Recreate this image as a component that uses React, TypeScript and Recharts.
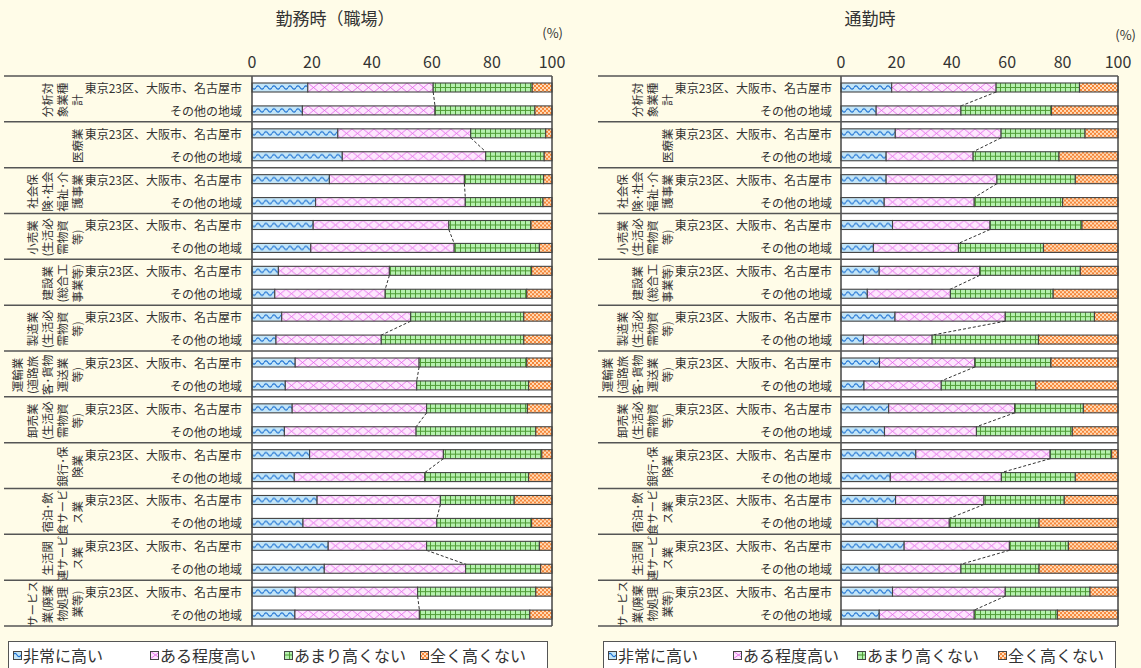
import React from 'react';
import { BarChart, Bar, XAxis, YAxis, CartesianGrid, ReferenceLine } from 'recharts';

// ---------------- data ----------------
const groupLabels: string[][] = [
  ['分析対', '象業種', '計'],
  ['医療業'],
  ['社会保', '険・社会', '福祉・介', '護事業'],
  ['小売業', '(生活必', '需物資', '等)'],
  ['建設業', '(総合工', '事業等)'],
  ['製造業', '(生活必', '需物資', '等)'],
  ['運輸業', '(道路旅', '客・貨物', '運送業', '等)'],
  ['卸売業', '(生活必', '需物資', '等)'],
  ['銀行・保', '険業'],
  ['宿泊・飲', '食サービ', 'ス業'],
  ['生活関', '連サービ', 'ス業'],
  ['サービス', '業(廃棄', '物処理', '業等)'],
];
const rowLabels = ['東京23区、大阪市、名古屋市', 'その他の地域'];
const seriesNames = ['非常に高い', 'ある程度高い', 'あまり高くない', '全く高くない'];
const xTicks = [0, 20, 40, 60, 80, 100];
const titles = ['勤務時（職場）', '通勤時'];

// 勤務時（職場）
const workVery = [18.6, 16.8, 28.6, 30.1, 25.8, 21.2, 20.4, 19.6, 8.8, 7.6, 9.9, 8.0, 14.4, 11.1, 13.4, 10.8, 19.2, 14.1, 21.7, 17.0, 25.4, 24.1, 14.4, 14.3];
const workSome = [41.8, 44.2, 44.3, 47.8, 45.0, 49.9, 45.2, 47.8, 37.0, 36.8, 43.0, 35.1, 41.3, 43.8, 44.8, 43.9, 44.6, 43.5, 41.1, 44.6, 32.8, 47.1, 40.8, 41.5];
const workNotVery = [33.0, 33.3, 25.0, 19.5, 26.4, 25.9, 27.4, 28.4, 47.4, 47.2, 37.7, 47.5, 35.9, 37.3, 33.6, 39.9, 32.8, 34.6, 24.6, 31.6, 37.6, 25.0, 39.4, 36.8];
const workNone = [6.6, 5.7, 2.1, 2.6, 2.8, 3.0, 7.0, 4.2, 6.8, 8.4, 9.4, 9.4, 8.4, 7.8, 8.2, 5.4, 3.4, 7.8, 12.6, 6.8, 4.2, 3.8, 5.4, 7.4];

// 通勤時
const commVery = [18.3, 12.7, 19.6, 16.3, 16.3, 15.6, 18.6, 11.7, 13.8, 9.5, 19.5, 8.1, 13.9, 8.3, 17.2, 15.7, 27.0, 17.8, 19.7, 13.1, 22.8, 13.8, 18.6, 13.8];
const commSome = [37.7, 30.6, 38.2, 31.4, 40.0, 32.5, 35.2, 30.7, 36.3, 30.0, 39.8, 24.8, 34.4, 27.9, 45.5, 33.2, 48.5, 40.1, 31.9, 26.0, 38.0, 29.5, 40.7, 34.3];
const commNotVery = [30.1, 32.7, 30.3, 31.0, 28.3, 31.9, 33.2, 30.7, 36.3, 37.1, 32.2, 38.4, 27.5, 34.1, 24.8, 34.6, 22.2, 26.7, 29.0, 32.4, 21.3, 28.2, 30.6, 30.0];
const commNone = [13.9, 24.0, 11.9, 21.3, 15.4, 20.0, 13.0, 26.9, 13.6, 23.4, 8.5, 28.7, 24.2, 29.7, 12.5, 16.5, 2.3, 15.4, 19.4, 28.5, 17.9, 28.5, 10.1, 21.9];

type Row = { id: number; group: number; label: string; very: number; some: number; notVery: number; none: number };

function buildRows(very: number[], some: number[], notVery: number[], none: number[]): Row[] {
  return very.map((v, i) => ({
    id: i,
    group: Math.floor(i / 2),
    label: rowLabels[i % 2],
    very: v,
    some: some[i],
    notVery: notVery[i],
    none: none[i],
  }));
}

const workRows = buildRows(workVery, workSome, workNotVery, workNone);
const commRows = buildRows(commVery, commSome, commNotVery, commNone);

// ---------------- styles ----------------
const BG = '#FFFCE8';
const TEXT = '#333333';
const FONT = '"Noto Sans CJK JP", "Noto Sans", sans-serif';
const KEYS = ['very', 'some', 'notVery', 'none'] as const;
type Kind = typeof KEYS[number];

function patternDef(kind: Kind, id: string, y: number, h: number) {
  switch (kind) {
    case 'very':
      return (
        <pattern id={id} patternUnits="userSpaceOnUse" x={0} y={y} width={8} height={h}>
          <rect width={8} height={h} fill="#C3E5F8" />
          <path d={`M0 ${h / 2} Q2 ${h / 2 - 3.2} 4 ${h / 2} T8 ${h / 2}`} fill="none" stroke="#1A6FD2" strokeWidth={1.1} />
        </pattern>
      );
    case 'some':
      return (
        <pattern id={id} patternUnits="userSpaceOnUse" x={0} y={y} width={11} height={h}>
          <rect width={11} height={h} fill="#FDE6FD" />
          <path d={`M0 0 L11 ${h} M11 0 L0 ${h}`} fill="none" stroke="#E25CE8" strokeWidth={0.8} />
        </pattern>
      );
    case 'notVery':
      return (
        <pattern id={id} patternUnits="userSpaceOnUse" x={0} y={y} width={5} height={h}>
          <rect width={5} height={h} fill="#B5F1AE" />
          <line x1={0.5} x2={0.5} y1={0} y2={h} stroke="#4F9B35" strokeWidth={1} />
          <line x1={0} x2={5} y1={h / 2} y2={h / 2} stroke="#4F9B35" strokeWidth={1} />
        </pattern>
      );
    default:
      return (
        <pattern id={id} patternUnits="userSpaceOnUse" x={0} y={y} width={4} height={4}>
          <rect width={4} height={4} fill="#FFDDBA" />
          <rect x={0} y={0} width={2} height={2} fill="#F5863A" />
          <rect x={2} y={2} width={2} height={2} fill="#F5863A" />
        </pattern>
      );
  }
}

type PanelCfg = {
  pid: string;
  title: string;
  rows: Row[];
  left: number;
  width: number;
  plotLeft: number;
  plotRight: number;
  tableLeft: number;
  rowLabelRight: number;
  groupColRight: number;
  titleX: number;
  pctRight: number;
  pctY: number;
  legendLeft: number;
  legendWidth: number;
  legendItemX: number[];
};

const PLOT_TOP = 76;
const PLOT_BOTTOM = 626;
const CHART_H = 668;

function makeShape(kind: Kind, cfg: PanelCfg, band: number) {
  return (props: any) => {
    const { x, y, width, height, index, payload } = props;
    if (!(width > 0)) return <g />;
    const id = `${cfg.pid}-${kind}-${index}`;
    let connector: React.ReactNode = null;
    if (kind === 'some' && index % 2 === 0) {
      const next = cfg.rows[index + 1];
      const k = width / payload.some;
      const x0 = x - payload.very * k;
      const xa = x + width;
      const xb = x0 + (next.very + next.some) * k;
      connector = (
        <line x1={xa} y1={y + height} x2={xb} y2={y + band} stroke="#333" strokeWidth={1} strokeDasharray="3 2" />
      );
    }
    return (
      <g>
        <defs>{patternDef(kind, id, y, height)}</defs>
        <rect x={x} y={y} width={width} height={height} fill={`url(#${id})`} stroke="#444" strokeWidth={1.1} />
        {connector}
      </g>
    );
  };
}

function makeTick(cfg: PanelCfg, band: number) {
  return (props: any) => {
    const { y, payload } = props;
    const i = Number(payload.value);
    const row = cfg.rows[i];
    const els: React.ReactNode[] = [];
    els.push(
      <text key="l" x={cfg.rowLabelRight} y={y} textAnchor="end" dominantBaseline="central" fontSize={12} fill={TEXT} fontFamily={FONT}>
        {row.label}
      </text>
    );
    if (i % 2 === 0) {
      const top = y - band / 2;
      const gc = y + band / 2 + 1;
      els.push(<line key="s" x1={cfg.tableLeft} x2={cfg.plotRight} y1={top} y2={top} stroke="#555" strokeWidth={1.5} />);
      const lines = groupLabels[row.group];
      lines.forEach((t, j) => {
        const cx = cfg.groupColRight - (lines.length - 1 - j) * 15;
        els.push(
          <text key={'g' + j} x={cx} y={gc} transform={`rotate(-90 ${cx} ${gc})`} textAnchor="middle" dominantBaseline="central" fontSize={11.5} fill={TEXT} fontFamily={FONT}>
            {t.replace(/・/g, '･')}
          </text>
        );
      });
    }
    if (i === cfg.rows.length - 1) {
      const bot = y + band / 2;
      els.push(<line key="b" x1={cfg.tableLeft} x2={cfg.plotRight} y1={bot} y2={bot} stroke="#555" strokeWidth={1.5} />);
    }
    return <g>{els}</g>;
  };
}

function LegendBox({ cfg }: { cfg: PanelCfg }) {
  return (
    <div
      style={{
        position: 'absolute',
        left: cfg.legendLeft,
        top: 641,
        width: cfg.legendWidth,
        height: 32,
        boxSizing: 'border-box',
        border: '1px solid #555',
        background: '#fff',
        fontSize: 16,
        color: TEXT,
        whiteSpace: 'nowrap',
      }}
    >
      {seriesNames.map((n, i) => (
        <span key={n} style={{ position: 'absolute', left: cfg.legendItemX[i], top: 2, display: 'flex', alignItems: 'center', lineHeight: '22px' }}>
          <svg width={9} height={9} style={{ marginRight: 1 }}>
            <defs>{patternDef(KEYS[i], `${cfg.pid}-lg-${i}`, 0, 8)}</defs>
            <rect x={0.5} y={0.5} width={8} height={8} fill={`url(#${cfg.pid}-lg-${i})`} stroke="#444" strokeWidth={1} />
          </svg>
          {n}
        </span>
      ))}
    </div>
  );
}

function Panel({ cfg }: { cfg: PanelCfg }) {
  const band = (PLOT_BOTTOM - PLOT_TOP) / cfg.rows.length;
  return (
    <div style={{ position: 'absolute', left: cfg.left, top: 0, width: cfg.width, height: CHART_H }}>
      <div style={{ position: 'absolute', left: cfg.titleX - 100, width: 200, top: 6, textAlign: 'center', fontSize: 17, lineHeight: '24px', color: TEXT }}>
        {cfg.title}
      </div>
      <div style={{ position: 'absolute', left: cfg.pctRight - 40, width: 40, top: cfg.pctY - 9, textAlign: 'right', fontSize: 13, lineHeight: '18px', color: TEXT }}>
        (%)
      </div>
      <div style={{ position: 'absolute', left: 0, top: 0 }}>
        <BarChart
          width={cfg.width}
          height={CHART_H}
          data={cfg.rows}
          layout="vertical"
          margin={{ top: PLOT_TOP - 30, right: cfg.width - cfg.plotRight, bottom: CHART_H - PLOT_BOTTOM, left: 0 }}
          barSize={9}
        >
          <CartesianGrid horizontal={false} vertical={false} fill="#ffffff" stroke="none" />
          <XAxis
            type="number"
            orientation="top"
            domain={[0, 100]}
            ticks={xTicks}
            interval={0}
            height={30}
            axisLine={false}
            tickLine={false}
            tick={{ fontSize: 16, fill: TEXT, fontFamily: FONT }}
          />
          <YAxis
            type="category"
            dataKey="id"
            width={cfg.plotLeft}
            interval={0}
            axisLine={false}
            tickLine={false}
            tick={makeTick(cfg, band)}
          />
          {KEYS.map((k, i) => (
            <Bar key={k} dataKey={k} name={seriesNames[i]} stackId="s" isAnimationActive={false} shape={makeShape(k, cfg, band)} />
          ))}
          <ReferenceLine x={0} stroke="#444" strokeWidth={1.5} />
          <ReferenceLine x={100} stroke="#444" strokeWidth={1.5} />
        </BarChart>
      </div>
      <LegendBox cfg={cfg} />
    </div>
  );
}

const leftCfg: PanelCfg = {
  pid: 'w',
  title: titles[0],
  rows: workRows,
  left: 0,
  width: 580,
  plotLeft: 252,
  plotRight: 552,
  tableLeft: 4,
  rowLabelRight: 242,
  groupColRight: 77,
  titleX: 335,
  pctRight: 563,
  pctY: 33,
  legendLeft: 8,
  legendWidth: 540,
  legendItemX: [4, 141, 275, 411],
};

const rightCfg: PanelCfg = {
  pid: 'c',
  title: titles[1],
  rows: commRows,
  left: 590,
  width: 551,
  plotLeft: 251,
  plotRight: 528,
  tableLeft: 8,
  rowLabelRight: 242,
  groupColRight: 77,
  titleX: 280,
  pctRight: 546,
  pctY: 35,
  legendLeft: 13,
  legendWidth: 513,
  legendItemX: [4, 129, 253, 394],
};

export default function App() {
  return (
    <div style={{ position: 'absolute', left: 0, top: 0, width: 1141, height: 668, background: BG, overflow: 'hidden', fontFamily: FONT }}>
      <Panel cfg={leftCfg} />
      <Panel cfg={rightCfg} />
    </div>
  );
}
